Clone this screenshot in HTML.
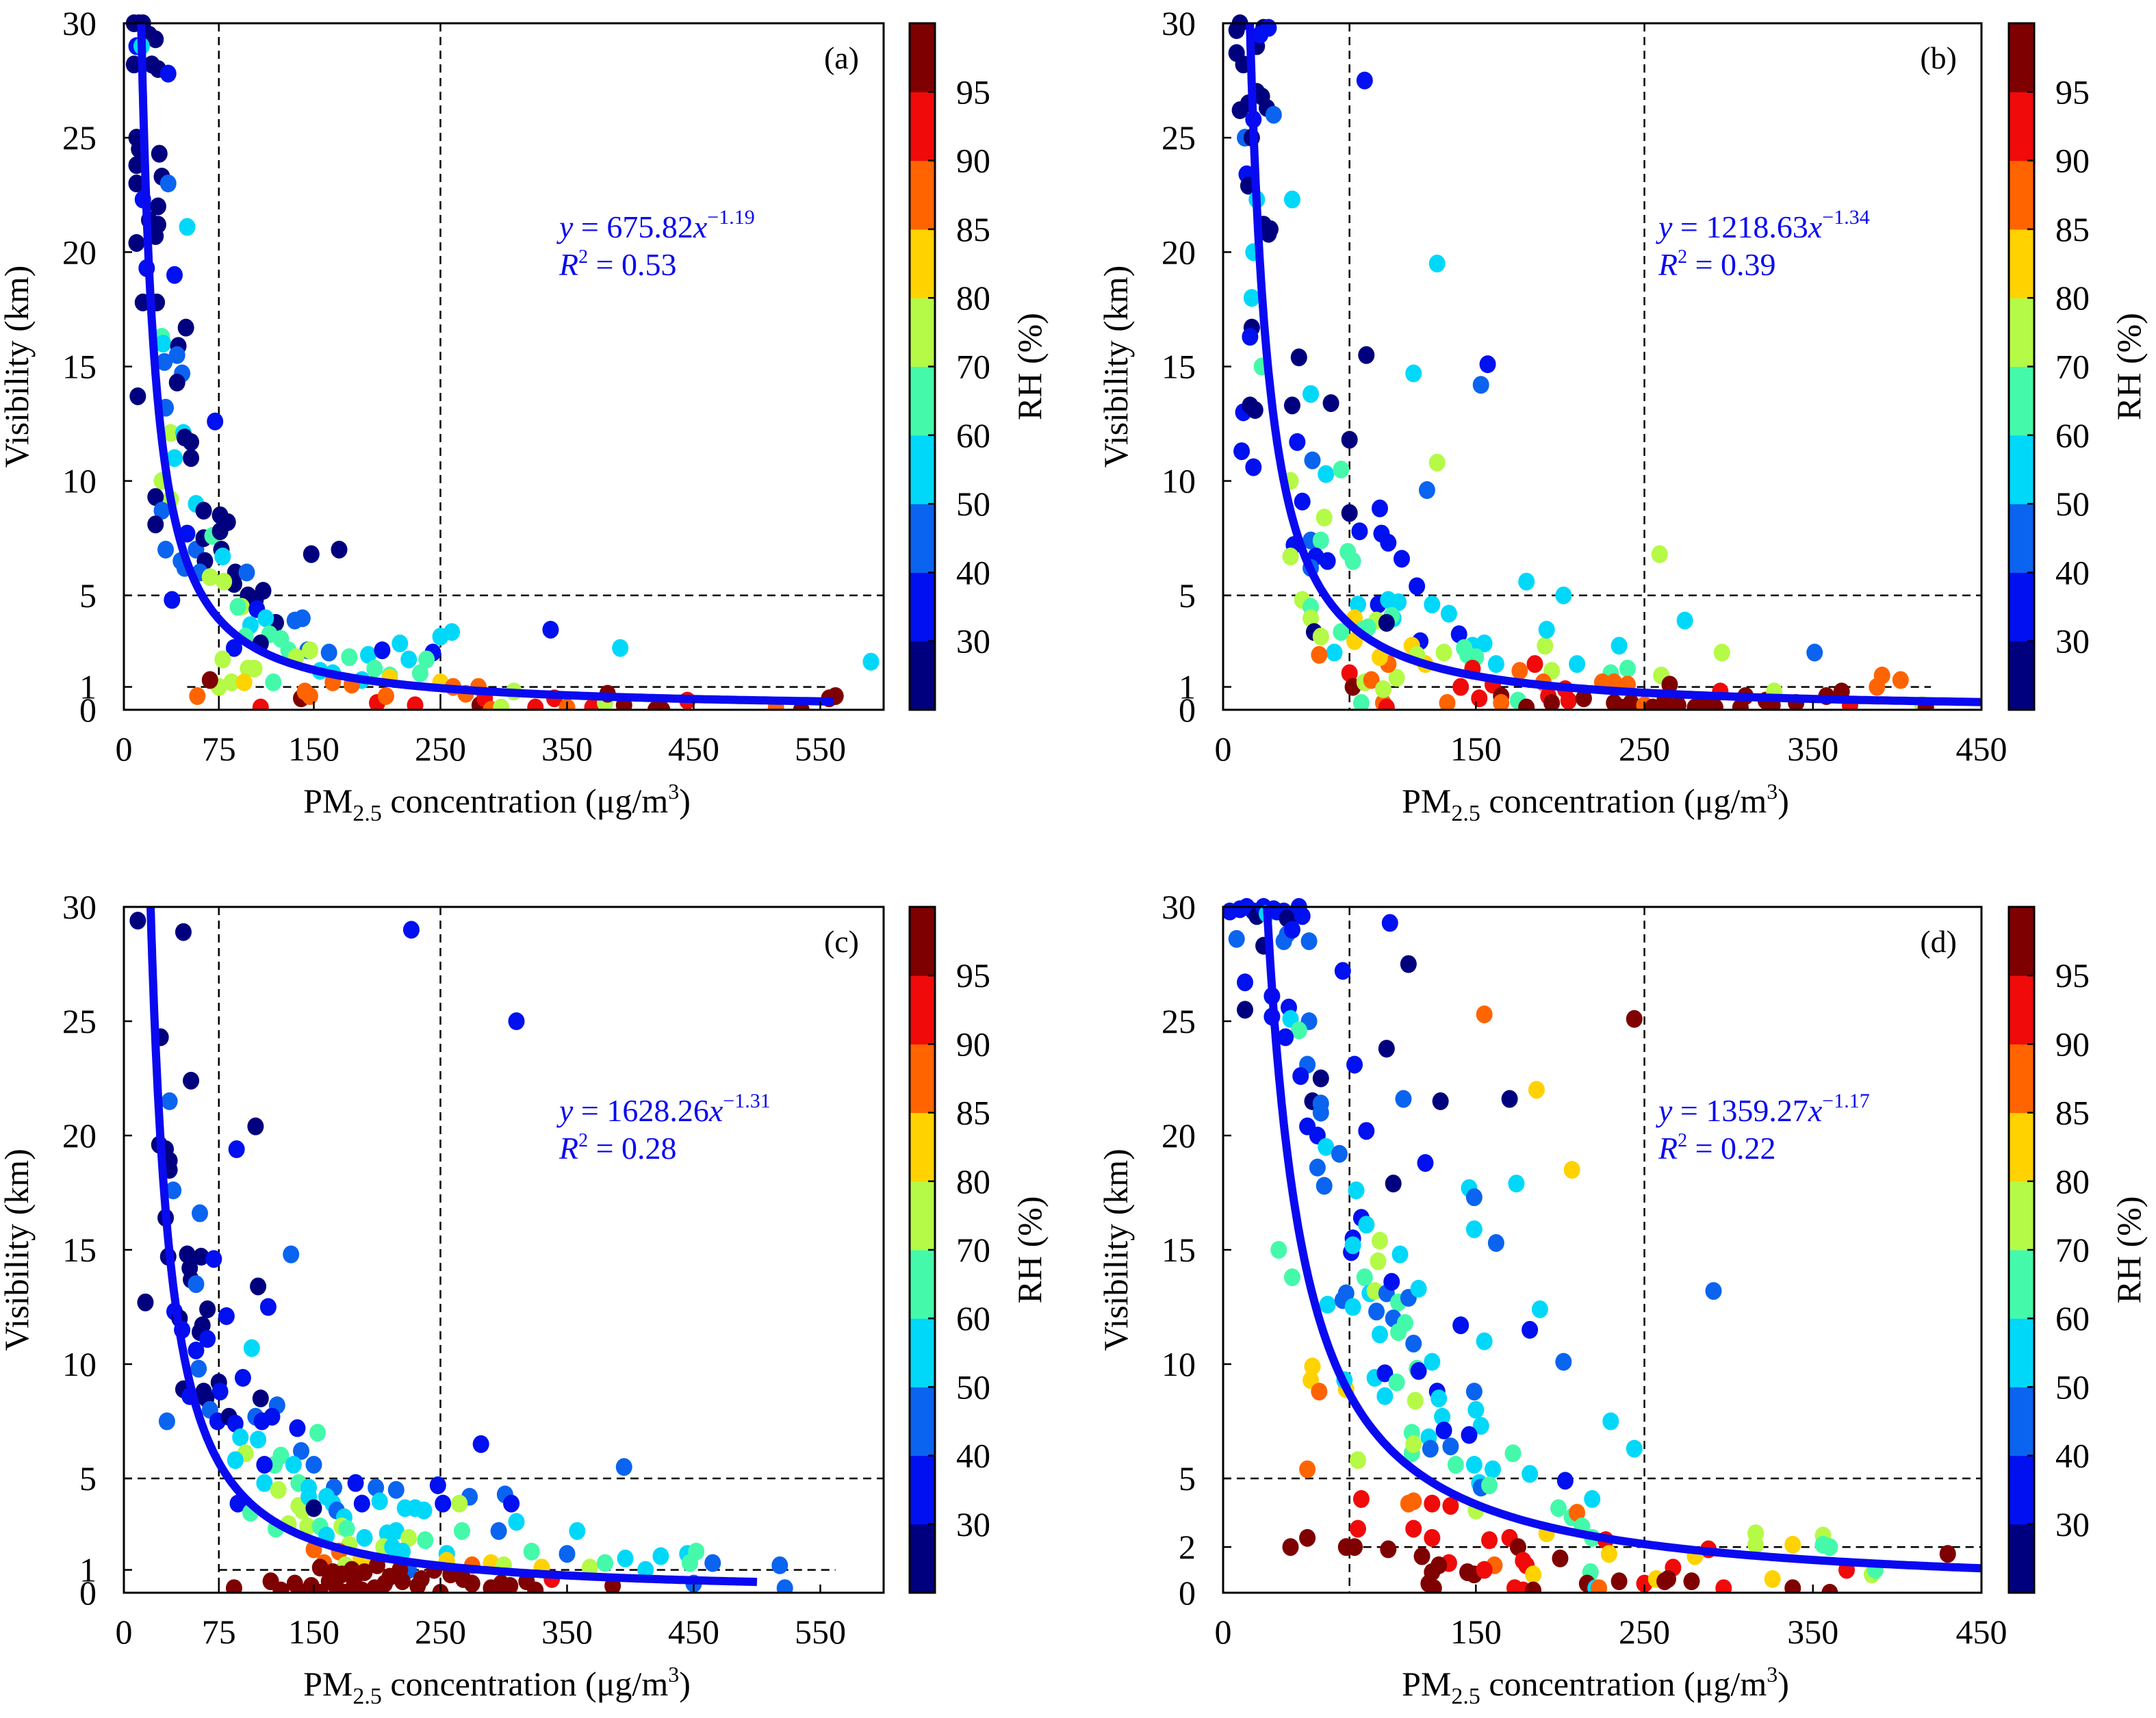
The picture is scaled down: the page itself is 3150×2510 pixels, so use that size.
<!DOCTYPE html>
<html><head><meta charset="utf-8">
<style>
html,body{margin:0;padding:0;background:#fff;}
svg{display:block;}
svg text, svg tspan{font-family:"Liberation Serif","Times New Roman",serif;}
</style></head>
<body>
<svg id="fig" width="3150" height="2510" viewBox="0 0 3150 2510" xmlns="http://www.w3.org/2000/svg" font-family="Liberation Serif, serif"></svg>
<script>
// ---- data (pm2.5, visibility, RH) ----
const aPoints = [[8,30,25],[12,30,25],[15,30,25],[18,29.5,25],[10,29,35],[20,29.5,25],[25,29.3,25],[14,29,55],[8,28.2,25],[22,28.2,25],[27,28,25],[35,27.8,35],[10,25,25],[12,24.5,25],[28,24.3,25],[10,23.8,25],[30,23.3,25],[35,23,45],[10,23,25],[15,22.3,35],[27,22,25],[20,21.4,25],[27,21.2,25],[25,20.7,25],[10,20.4,25],[50,21.1,55],[18,19.3,35],[40,19,35],[15,17.8,25],[26,17.8,25],[49,16.7,25],[30,16.3,65],[31,16,55],[43,15.9,25],[42,15.5,45],[32,15.2,45],[46,14.7,45],[42,14.3,25],[11,13.7,25],[33,13.2,45],[37,12.1,75],[47,12.1,55],[48,11.9,25],[53,11.7,25],[40,11,55],[53,11,25],[72,12.6,35],[30,10,75],[37,9.2,75],[25,9.3,25],[30,8.7,45],[57,9,55],[63,8.7,25],[25,8.1,25],[76,8.5,25],[82,8.2,25],[33,7,45],[50,7.7,35],[57,7,45],[63,7.5,25],[70,7.6,65],[76,7.8,25],[77,7,25],[78,6.7,55],[45,6.5,45],[48,6.2,45],[64,6.5,25],[60,6,45],[68,5.8,75],[88,6,25],[97,6,45],[87,5.5,25],[79,5.6,75],[110,5.2,25],[98,5,25],[104,4.8,25],[93,4.5,75],[105,4.4,35],[120,3.8,25],[112,4,55],[135,3.9,45],[141,4,45],[38,4.8,35],[90,4.5,65],[100,3.7,55],[96,3.2,65],[115,3.3,65],[124,3.1,65],[108,2.9,25],[87,2.7,35],[130,2.6,65],[145,2.6,45],[147,2.6,75],[162,2.5,45],[136,2.3,75],[178,2.3,65],[193,2.4,55],[204,2.6,35],[218,2.9,55],[225,2.2,55],[244,2.5,35],[239,2.2,65],[250,3.2,55],[259,3.4,55],[234,1.6,65],[198,1.8,65],[210,1.5,65],[188,1.3,55],[165,1.6,55],[155,1.7,55],[78,2.2,75],[98,1.8,75],[75,1,75],[85,1.2,75],[95,1.2,82],[103,1.8,75],[118,1.2,65],[68,1.3,97],[58,0.6,87],[140,0.5,97],[143,0.8,87],[147,0.6,87],[108,0.1,92],[200,0.3,92],[207,0.6,87],[230,0.2,92],[165,1.2,87],[180,1.1,87],[210,1.4,82],[250,1.2,82],[260,1.0,87],[270,0.7,87],[281,0.2,97],[280,1.0,87],[285,0.5,92],[290,0,87],[298,0.1,75],[308,0.8,75],[325,0.1,92],[340,0.5,92],[350,0.1,87],[370,0.1,92],[380,0.3,75],[382,0.7,97],[395,0.2,97],[420,0,97],[425,0,97],[445,0.4,92],[515,0.1,87],[535,0,97],[557,0.5,97],[562,0.6,97],[337,3.5,35],[392,2.7,55],[590,2.1,55],[148,6.8,25],[170,7,25]];
const bPoints = [[8,29.7,25],[10,30,25],[24,29.8,25],[27,29.8,35],[20,29,25],[8,28.7,25],[12,28.2,25],[22,29.5,35],[20,27,25],[23,26.8,25],[26,26.3,25],[30,26,45],[10,26.2,25],[15,26.5,25],[13,25,45],[17,25,25],[18,25.8,35],[14,23.4,35],[15,22.9,25],[20,22.3,55],[41,22.3,55],[24,21.2,25],[28,21,25],[27,20.8,25],[18,20,55],[17,18,55],[17,16.7,25],[16,16.3,35],[23,15,65],[45,15.4,25],[12,13,35],[16,13.3,25],[19,13.1,25],[41,13.3,25],[64,13.4,25],[52,13.8,55],[11,11.3,35],[18,10.6,35],[44,11.7,35],[53,10.9,45],[61,10.3,55],[70,10.5,65],[40,10,75],[75,11.8,25],[84,27.5,35],[85,15.5,25],[113,14.7,55],[157,15.1,35],[153,14.2,45],[127,19.5,55],[127,10.8,75],[121,9.6,45],[47,9.1,35],[60,8.4,75],[75,8.6,25],[93,8.8,35],[81,7.8,35],[94,7.7,35],[98,7.3,35],[106,6.6,35],[42,7.2,35],[52,7.4,45],[58,7.4,65],[62,6.5,35],[55,6.7,35],[74,6.9,65],[77,6.5,65],[52,6.2,45],[40,6.7,75],[115,5.4,35],[180,5.6,55],[202,5,55],[259,6.8,75],[274,3.9,55],[296,2.5,75],[351,2.5,45],[47,4.8,75],[52,4.5,65],[52,4,75],[54,3.4,25],[58,3.2,75],[70,3.4,65],[66,2.5,55],[57,2.4,87],[80,4.6,55],[92,4.6,35],[98,4.8,55],[104,4.7,55],[101,4,55],[100,4.1,65],[91,3.9,75],[86,3.6,65],[97,3.8,25],[78,4,82],[78,3,82],[83,3.5,65],[124,4.6,55],[134,4.2,55],[140,3.3,35],[155,2.9,55],[148,2.8,55],[117,3,35],[112,2.8,82],[143,2.7,65],[131,2.5,75],[150,2.3,65],[145,2.4,65],[162,2,55],[191,2.8,75],[192,3.5,55],[235,2.8,55],[210,2,55],[195,1.7,75],[230,1.6,65],[240,1.8,65],[260,1.5,75],[120,2,82],[115,2.4,75],[103,1.4,75],[98,2,87],[93,2.3,82],[75,1.6,92],[77,1,97],[84,1.2,75],[88,1.3,87],[95,0.3,87],[95,0.9,75],[82,0.3,65],[97,0.1,92],[133,0.3,87],[141,1,92],[148,1.8,92],[160,1.1,92],[152,0.5,92],[165,0.6,97],[175,0.4,65],[165,0.3,87],[176,1.7,87],[185,2,92],[180,0.1,97],[190,1.2,87],[193,0.6,92],[195,0.3,97],[203,0.9,92],[205,0.4,92],[214,0.5,97],[225,1.2,87],[232,1.2,87],[240,1.1,87],[232,0.3,97],[236,0.1,97],[242,0.3,97],[250,0.2,87],[255,0.1,97],[262,0.4,97],[265,1.1,97],[268,0.1,97],[270,0.2,97],[280,0.1,97],[285,0.3,97],[292,0.1,97],[295,0.8,92],[307,0.1,97],[310,0.6,97],[322,0.4,97],[326,0.2,97],[327,0.8,75],[340,0.3,97],[358,0.6,97],[367,0.8,97],[372,0.2,92],[388,1,87],[391,1.5,87],[402,1.3,87],[415,0.2,75],[417,0.1,97]];
const cPoints = [[11,29.4,25],[47,28.9,25],[227,29,35],[310,25,35],[29,24.3,25],[53,22.4,25],[36,21.5,45],[104,20.4,25],[89,19.4,35],[28,19.6,25],[33,19.4,25],[36,18.9,25],[36,18.5,25],[39,17.6,45],[60,16.6,45],[33,16.4,25],[17,12.7,25],[50,14.8,25],[35,14.7,25],[61,14.7,25],[71,14.6,35],[52,14.2,25],[53,13.7,25],[57,13.5,45],[132,14.8,45],[106,13.4,25],[114,12.5,35],[40,12.3,35],[44,12,25],[66,12.4,25],[81,12.1,35],[62,11.7,25],[60,11.4,25],[46,11.5,35],[66,11.1,35],[57,10.6,35],[59,9.8,45],[101,10.7,55],[94,9.4,35],[75,9.2,25],[76,8.8,35],[47,8.9,25],[52,8.6,35],[63,8.8,25],[65,8.5,25],[108,8.5,25],[121,8.2,45],[68,8,45],[74,7.5,35],[83,7.7,25],[88,7.4,35],[104,7.7,45],[109,7.5,35],[117,7.7,35],[34,7.5,45],[137,7.2,35],[153,7,65],[92,6.8,55],[106,6.7,55],[96,6.1,75],[124,6,65],[119,5.6,65],[140,6.2,45],[88,5.8,55],[134,5.6,55],[150,5.6,45],[111,5.6,35],[111,4.8,55],[138,4.8,65],[146,4.6,55],[122,4.5,75],[166,4.6,45],[183,4.8,35],[199,4.6,45],[215,4.5,45],[248,4.7,35],[252,3.9,35],[273,4.2,45],[301,4.3,45],[306,3.9,35],[282,6.5,35],[395,5.5,45],[90,3.9,35],[100,3.5,65],[138,3.8,75],[141,3.6,75],[146,4.2,55],[150,3.7,25],[160,4.2,55],[165,3.9,55],[168,3.6,45],[174,3.3,55],[188,3.9,35],[202,4,55],[222,3.7,55],[230,3.7,55],[237,3.6,55],[265,3.9,75],[120,2.8,65],[130,3,75],[145,2.9,75],[155,2.9,65],[172,2.9,75],[176,2.8,65],[190,2.4,55],[208,2.6,55],[215,2.7,55],[225,2.4,75],[238,2.3,65],[267,2.7,65],[296,2.7,45],[310,3.1,55],[358,2.7,55],[160,2.5,55],[178,2.1,75],[205,2,75],[212,2,55],[220,1.8,55],[255,1.7,55],[150,1.9,87],[170,1.8,87],[158,1.3,87],[175,1.2,75],[187,1.5,82],[195,1.3,82],[255,1.4,82],[275,1.2,87],[290,1.3,82],[300,1.2,75],[322,1.8,65],[330,1.1,82],[350,1.7,45],[368,1.1,75],[380,1.3,65],[396,1.5,55],[412,1,55],[424,1.6,55],[445,1.7,55],[452,1.8,65],[447,1.3,65],[465,1.3,45],[518,1.2,45],[450,0.4,45],[522,0.2,45],[225,1,45],[155,1.1,97],[165,0.9,97],[172,0.8,97],[180,1,97],[190,0.9,97],[200,1.2,97],[210,0.7,97],[218,1,97],[235,0.6,97],[245,1,97],[258,0.8,97],[268,0.6,97],[275,0.4,97],[290,0.2,97],[298,0.4,97],[305,0.3,97],[318,0.5,97],[325,0.1,97],[338,0.6,92],[386,0.3,97],[87,0.2,97],[116,0.5,97],[124,0.1,97],[135,0.4,97],[140,0,97],[148,0.3,97],[155,0,97],[162,0.5,97],[168,0.2,97],[175,0,97],[182,0.4,97],[188,0.1,97],[198,0.2,97],[206,0.4,97],[250,0,97],[232,0.3,97],[220,0.5,97]];
const dPoints = [[4,29.8,35],[10,29.9,35],[14,30,35],[18,29.8,35],[20,29.6,25],[24,30,35],[26,29.7,55],[30,29.9,35],[32,29.8,35],[36,29.8,35],[38,29.5,25],[40,29.4,25],[45,30,35],[47,29.6,35],[8,28.6,45],[24,28.3,25],[36,28.5,45],[38,28.8,45],[41,29,35],[51,28.5,45],[71,27.2,35],[99,29.3,35],[110,27.5,25],[13,26.7,35],[13,25.5,25],[29,26.1,35],[29,25.2,35],[39,25.6,35],[40,25.1,55],[51,25,45],[45,24.6,65],[37,24.3,35],[78,23.1,35],[50,23.1,45],[46,22.6,35],[58,22.5,25],[97,23.8,25],[53,21.5,25],[58,21.4,45],[58,21,45],[107,21.6,45],[129,21.5,25],[170,21.6,25],[186,22,82],[50,20.4,35],[56,20,35],[85,20.2,35],[61,19.5,55],[69,19.2,45],[120,18.8,35],[56,18.6,45],[60,17.8,45],[101,17.9,25],[146,17.7,55],[149,17.3,45],[174,17.9,55],[207,18.5,82],[79,17.6,55],[82,16.4,35],[85,16.1,55],[149,15.9,55],[162,15.3,45],[33,15,65],[41,13.8,65],[77,15.5,35],[76,14.9,35],[77,15.2,55],[93,15.4,75],[92,14.5,75],[105,14.8,55],[62,12.6,55],[71,12.8,45],[73,13.1,45],[77,12.5,55],[84,13.8,65],[87,13.1,55],[90,13.2,75],[97,13.1,45],[100,13.6,35],[104,12.7,65],[110,12.9,45],[116,13.3,55],[91,12.3,45],[101,12,45],[108,11.8,65],[104,11.4,65],[93,11.3,55],[113,10.9,45],[141,11.7,35],[155,11,55],[182,11.5,35],[188,12.4,55],[202,10.1,45],[53,9.9,82],[52,9.3,82],[57,8.8,87],[73,8.9,82],[72,9.3,55],[90,9.4,55],[96,9.6,35],[96,8.6,55],[103,9.2,65],[115,9.8,65],[116,9.7,35],[114,8.4,75],[124,10.1,55],[127,8.8,35],[128,8.5,55],[149,8.8,45],[150,8,55],[130,7.7,55],[153,7.3,55],[112,7,65],[122,6.8,55],[131,7.1,35],[146,6.9,35],[112,6.1,65],[113,6.5,75],[123,6.3,45],[135,6.4,45],[172,6.1,65],[138,5.6,65],[149,5.6,55],[80,5.8,75],[160,5.4,55],[182,5.2,55],[152,4.8,55],[153,4.6,45],[158,4.7,65],[203,4.9,35],[230,7.5,55],[244,6.3,55],[219,4.1,55],[50,5.4,87],[82,4.1,92],[110,3.9,87],[113,4,87],[124,3.9,92],[135,3.8,92],[150,3.6,75],[199,3.7,65],[207,3.3,65],[210,3.5,87],[80,2.8,92],[113,2.8,92],[124,2.4,92],[50,2.4,97],[40,2,97],[73,2,97],[78,2,97],[98,1.9,97],[158,2.3,92],[170,2.4,92],[175,2,97],[192,2.6,82],[213,2.9,65],[219,2.4,65],[227,2.3,92],[229,1.7,82],[161,1.2,87],[134,1.3,92],[178,1.4,92],[180,1.2,92],[200,1.5,97],[118,1.6,97],[124,0.9,97],[128,1.2,97],[122,0.4,97],[125,0.2,97],[145,0.9,97],[149,0.8,97],[155,1,92],[184,0.8,82],[218,0.9,65],[216,0.4,97],[220,0,97],[221,0.2,55],[223,0.2,87],[235,0.5,97],[250,0.4,92],[257,0.6,82],[262,0.5,97],[267,1.1,92],[264,0.6,97],[278,0.5,97],[288,1.9,92],[280,1.6,82],[297,0.2,92],[316,2.6,75],[316,2.1,75],[338,2.1,82],[326,0.6,82],[338,0.2,97],[356,2.5,75],[356,2.1,65],[360,2,65],[360,0,97],[370,1,92],[385,0.8,75],[387,1,65],[430,1.7,97],[173,0.2,92],[178,0.1,92],[184,0.1,97],[155,25.3,87],[244,25.1,97],[291,13.2,45]];
const fitCoef = [675.82, 1218.63, 1628.26, 1359.27];
const fitExp = [1.19, 1.34, 1.31, 1.17];
const fitR2 = ["0.53", "0.39", "0.28", "0.22"];
const fitXEnd = [560, 450, 500, 450];
const xMaxes = [600, 450, 600, 450];
const xTicksWide = [0, 75, 150, 250, 350, 450, 550];
const xTicksNarrow = [0, 150, 250, 350, 450];
const yTicksABC = [0, 1, 5, 10, 15, 20, 25, 30];
const yTicksD = [0, 2, 5, 10, 15, 20, 25, 30];
const hLineLevels = [1, 1, 1, 2];
const hLineRanges = [[50, 558], [75, 420], [75, 562], [75, 450]];
const rhBounds = [30, 40, 50, 60, 70, 80, 85, 90, 95];
const rhColors = ["#00007f", "#0010f0", "#0a64f0", "#00d8fa", "#44faaa", "#b4fa46", "#ffd200", "#ff6400", "#f00a0a", "#7f0000"];
const panelLabels = ["(a)", "(b)", "(c)", "(d)"];

const NS = "http://www.w3.org/2000/svg";
const svg = document.getElementById("fig");
const FONT = "Liberation Serif, Times New Roman, serif";
function mk(tag, attrs, parent) {
  const e = document.createElementNS(NS, tag);
  for (const k in attrs) e.setAttribute(k, attrs[k]);
  if (tag === "text") e.setAttribute("font-family", FONT);
  (parent || svg).appendChild(e);
  return e;
}
function rhColor(v) {
  let i = 0;
  while (i < rhBounds.length && v >= rhBounds[i]) i++;
  return rhColors[i];
}
const boxes = [
  {x0: 181, x1: 1291, y0: 34, y1: 1037, cb: 1329},
  {x0: 1787, x1: 2895, y0: 34, y1: 1037, cb: 2935},
  {x0: 181, x1: 1291, y0: 1325, y1: 2327, cb: 1329},
  {x0: 1787, x1: 2895, y0: 1325, y1: 2327, cb: 2935}
];
const allPoints = [aPoints, bPoints, cPoints, dPoints];
const names = ["a", "b", "c", "d"];

boxes.forEach((b, p) => {
  const g = mk("g", {});
  
  
  const xmax = xMaxes[p];
  const sx = v => b.x0 + v / xmax * (b.x1 - b.x0);
  const sy = v => b.y1 - v / 30 * (b.y1 - b.y0);
  const clipId = "clip" + p;
  const cp = mk("clipPath", {id: clipId}, g);
  mk("rect", {x: b.x0, y: b.y0 - 14, width: b.x1 - b.x0 + 14, height: b.y1 - b.y0 + 14}, cp);
  [75, 250].forEach(v => {
    const l = mk("line", {x1: sx(v), x2: sx(v), y1: b.y0, y2: b.y1, stroke: "#000", "stroke-width": 2.5, "stroke-dasharray": "12 8"}, g);
    
    
  });
  const h5 = mk("line", {x1: b.x0, x2: b.x1, y1: sy(5), y2: sy(5), stroke: "#000", "stroke-width": 2.5, "stroke-dasharray": "12 8"}, g);
  
  
  const hr = hLineRanges[p];
  const hl = mk("line", {x1: sx(hr[0]), x2: sx(hr[1]), y1: sy(hLineLevels[p]), y2: sy(hLineLevels[p]), stroke: "#000", "stroke-width": 2.5, "stroke-dasharray": "12 8"}, g);
  
  
  const pg = mk("g", {"clip-path": "url(#" + clipId + ")"}, g);
  
  
  allPoints[p].forEach(d => {
    const c = mk("ellipse", {cx: sx(d[0]), cy: sy(d[1]), rx: 12, ry: 13, fill: rhColor(d[2])}, pg);
    
    
  });
  const A = fitCoef[p], k = fitExp[p];
  const xStart = Math.pow(A / 30, 1 / k);
  let dstr = "";
  for (let i = 0; i <= 300; i++) {
    const x = xStart + (fitXEnd[p] - xStart) * Math.pow(i / 300, 2);
    const y = A * Math.pow(x, -k);
    dstr += (i ? "L" : "M") + sx(x).toFixed(1) + "," + sy(y).toFixed(1);
  }
  const curve = mk("path", {d: dstr, fill: "none", stroke: "#0a0af0", "stroke-width": 12, "stroke-linejoin": "round"}, g);
  
  
  const fr = mk("rect", {x: b.x0, y: b.y0, width: b.x1 - b.x0, height: b.y1 - b.y0, fill: "none", stroke: "#000", "stroke-width": 3}, g);
  
  
  const xt = xmax === 600 ? xTicksWide : xTicksNarrow;
  xt.forEach(v => {
    mk("line", {x1: sx(v), x2: sx(v), y1: b.y1, y2: b.y1 - 12, stroke: "#000", "stroke-width": 2.5}, g);
    const t = mk("text", {x: sx(v), y: b.y1 + 74, "font-size": 50, "text-anchor": "middle"}, g);
    t.textContent = v;
    
    
  });
  const yt = p === 3 ? yTicksD : yTicksABC;
  yt.forEach(v => {
    mk("line", {x1: b.x0, x2: b.x0 + 12, y1: sy(v), y2: sy(v), stroke: "#000", "stroke-width": 2.5}, g);
    const t = mk("text", {x: b.x0 - 40, y: sy(v) + 17, "font-size": 50, "text-anchor": "end"}, g);
    t.textContent = v;
    
    
  });
  const yl = mk("text", {x: 0, y: 0, "font-size": 50, "text-anchor": "middle", transform: "translate(" + (b.x0 - 140) + "," + ((b.y0 + b.y1) / 2) + ") rotate(-90)"}, g);
  yl.textContent = "Visibility (km)";
  
  
  const xl = mk("text", {x: (b.x0 + b.x1) / 2 - 10, y: b.y1 + 150, "font-size": 50, "text-anchor": "middle"}, g);
  xl.innerHTML = 'PM<tspan font-size="34" dy="12">2.5</tspan><tspan dy="-12"> concentration (μg/m</tspan><tspan font-size="32" dy="-20">3</tspan><tspan dy="20">)</tspan>';
  
  
  const ax = b.x0 + 636, ay = b.y0 + 313;
  const eq = mk("text", {x: ax, y: ay, "font-size": 46, fill: "#0a0af0"}, g);
  eq.innerHTML = '<tspan font-style="italic">y</tspan> = ' + fitCoef[p].toFixed(2) + '<tspan font-style="italic">x</tspan><tspan font-size="30" dy="-20">−' + fitExp[p].toFixed(2) + '</tspan>';
  
  
  const r2 = mk("text", {x: ax, y: ay + 55, "font-size": 46, fill: "#0a0af0"}, g);
  r2.innerHTML = '<tspan font-style="italic">R</tspan><tspan font-size="28" dy="-18">2</tspan><tspan dy="18"> = ' + fitR2[p] + '</tspan>';
  
  
  const pl = mk("text", {x: b.x1 - 36, y: b.y0 + 66, "font-size": 46, "text-anchor": "end"}, g);
  pl.textContent = panelLabels[p];
  
  
  const cbg = mk("g", {}, g);
  
  
  const cbw = 37, h = (b.y1 - b.y0) / 10;
  rhColors.forEach((col, i) => {
    mk("rect", {x: b.cb, y: b.y1 - (i + 1) * h, width: cbw, height: h + 0.5, fill: col}, cbg);
  });
  mk("rect", {x: b.cb, y: b.y0, width: cbw, height: b.y1 - b.y0, fill: "none", stroke: "#000", "stroke-width": 3}, cbg);
  rhBounds.forEach((v, i) => {
    const yy = b.y1 - (i + 1) * h;
    mk("line", {x1: b.cb + cbw - 10, x2: b.cb + cbw, y1: yy, y2: yy, stroke: "#000", "stroke-width": 2.5}, cbg);
    const t = mk("text", {x: b.cb + 68, y: yy + 17, "font-size": 50}, cbg);
    t.textContent = v;
    
    
  });
  const rl = mk("text", {x: 0, y: 0, "font-size": 50, "text-anchor": "middle", transform: "translate(" + (b.cb + 192) + "," + ((b.y0 + b.y1) / 2) + ") rotate(-90)"}, cbg);
  rl.textContent = "RH (%)";
  
  
});
</script>
</body></html>
